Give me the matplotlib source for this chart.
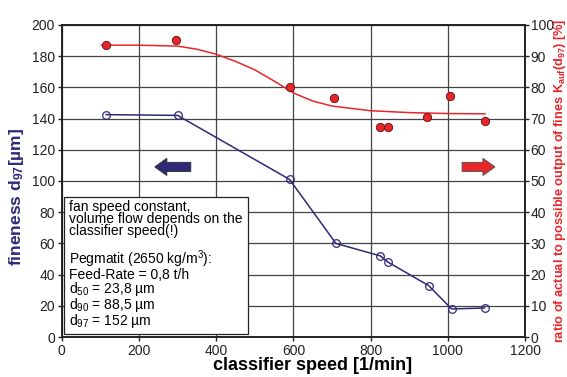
import matplotlib.pyplot as plt
import numpy as np

plt.rcParams['font.family'] = ['Liberation Sans', 'DejaVu Sans']
plt.rcParams['mathtext.fontset'] = 'custom'
plt.rcParams['mathtext.rm'] = 'Liberation Sans'
plt.rcParams['mathtext.bf'] = 'Liberation Sans:bold'
plt.rcParams['mathtext.default'] = 'regular'

# fineness d97 (left axis)
speed_d97 = [115, 300, 590, 710, 825, 845, 950, 1010, 1095]
d97 = [142.5, 142, 101, 60, 52, 48, 33, 18, 18.6]

# ratio of output (right axis), measured points
speed_ratio = [115, 295, 590, 705, 825, 845, 945, 1005, 1095]
ratio = [93.6, 95.2, 80.0, 76.7, 67.3, 67.3, 70.4, 77.2, 69.3]

# trend line
trend_x = [103, 200, 300, 350, 400, 450, 500, 550, 600, 650, 700, 800, 900, 1000, 1096]
trend_y = [93.5, 93.5, 93.2, 92.2, 90.6, 88.3, 85.6, 82.0, 78.2, 75.6, 74.0, 72.5, 71.9, 71.6, 71.5]

navy = '#2e2a78'
red = '#e8262a'

fig = plt.figure(figsize=(5.67, 3.77), dpi=100)
ax = fig.add_axes([0.109, 0.106, 0.817, 0.828])
ax2 = ax.twinx()

ax.set_xlim(0, 1200)
ax.set_ylim(0, 200)
ax2.set_ylim(0, 100)
ax.set_xticks(np.arange(0, 1201, 200))
ax.set_yticks(np.arange(0, 201, 20))
ax2.set_yticks(np.arange(0, 101, 10))
ax.grid(True, color='#444444', lw=0.9)
ax.set_axisbelow(True)

ax.plot(speed_d97, d97, '-o', color=navy, lw=1.1, ms=5.5,
        mfc='none', mec=navy, mew=0.9, zorder=3)
ax2.plot(trend_x, trend_y, '-', color=red, lw=1.1, zorder=3)
ax2.plot(speed_ratio, ratio, 'o', color=red, ms=6, mec='#5a1010', mew=0.6, zorder=4)

# arrows
ax.arrow(334, 109, -62, 0, width=5.8, head_width=11, head_length=31,
         length_includes_head=False, fc=navy, ec='#333333', lw=0.7, zorder=4)
ax.arrow(1037, 109, 54, 0, width=5.8, head_width=11, head_length=31,
         length_includes_head=False, fc=red, ec='#555555', lw=0.7, zorder=4)

txt = ("fan speed constant,\n"
       "volume flow depends on the\n"
       "classifier speed(!)\n"
       "\n"
       "Pegmatit (2650 kg/m$^3$):\n"
       "Feed-Rate = 0,8 t/h\n"
       "d$_{50}$ = 23,8 µm\n"
       "d$_{90}$ = 88,5 µm\n"
       "d$_{97}$ = 152 µm")
ax.text(0.016, 0.44, txt, transform=ax.transAxes, fontsize=10, va='top',
        ha='left', linespacing=0.84, zorder=6,
        bbox=dict(boxstyle='square,pad=0.35', fc='white', ec='#222222', lw=0.9))

for a in (ax, ax2):
    for s in a.spines.values():
        s.set_linewidth(1.2)
        s.set_color('#222222')
ax.tick_params(labelsize=10, length=3, width=1, colors='#222222', pad=2)
ax2.tick_params(labelsize=10, length=3, width=1, colors='#222222', pad=1)

ax.set_xlabel('classifier speed [1/min]', fontsize=13, fontweight='bold', labelpad=1)
ax.xaxis.set_label_coords(0.542, -0.065, transform=ax.transAxes)
ax.xaxis.label.set_va('top')
ax.set_ylabel('fineness d$_{97}$[µm]', fontsize=12.5, fontweight='bold', color=navy)
ax.yaxis.set_label_coords(-0.078, 0.45)
ax2.set_ylabel('ratio of actual to possible output of fines K$_{auf}$(d$_{97}$) [%]',
               fontsize=9.2, fontweight='bold', color=red)
ax2.yaxis.set_label_coords(1.059, 0.5)

fig.savefig('out.png', dpi=100)
